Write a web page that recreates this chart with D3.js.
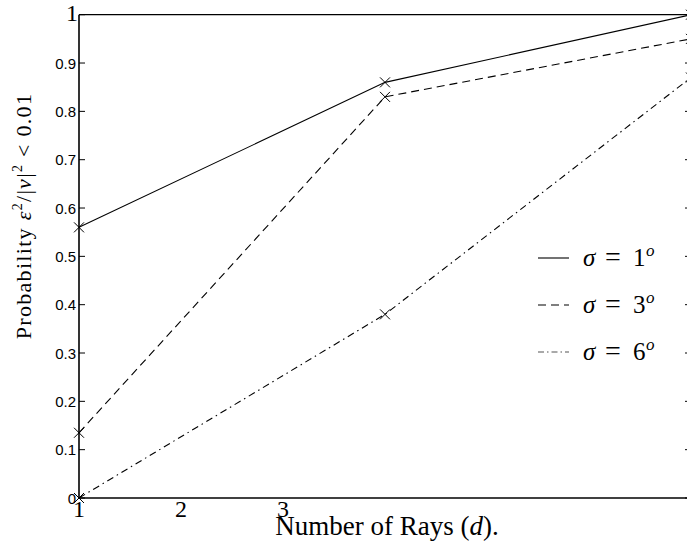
<!DOCTYPE html>
<html>
<head>
<meta charset="utf-8">
<script src="https://cdn.jsdelivr.net/npm/d3@7"></script>
<style>
  html, body { margin: 0; padding: 0; background: #fff; }
  svg { display: block; }
</style>
</head>
<body>
<div id="chart"></div>
<script>
// data
const rays = [1, 4, 7];
const sigma1 = [0.56, 0.86, 1.0];
const sigma3 = [0.135, 0.83, 0.95];
const sigma6 = [0.0, 0.38, 0.87];
const seriesNames = ['1', '3', '6'];
const xTicks = [1, 2, 3];
const yTicks = [0, 0.1, 0.2, 0.3, 0.4, 0.5, 0.6, 0.7, 0.8, 0.9, 1];

const width = 687;
const height = 547;
const box = { left: 79, right: 691, top: 14.7, bottom: 498 };

const svg = d3.select('#chart').append('svg')
  .attr('width', width).attr('height', height);

const x = d3.scaleLinear().domain([1, 7]).range([box.left, box.right]);
const y = d3.scaleLinear().domain([0, 1]).range([box.bottom, box.top]);

const serifText = "'Liberation Serif', 'DejaVu Serif', serif";
const sans = "'Liberation Sans', Arial, sans-serif";

// frame
const frame = svg.append('g');
frame.append('line').attr('x1', box.left).attr('x2', box.right).attr('y1', box.top).attr('y2', box.top)
  .attr('stroke', '#000').attr('stroke-width', 1.2);
frame.append('line').attr('x1', box.right).attr('x2', box.right).attr('y1', box.top).attr('y2', box.bottom)
  .attr('stroke', '#000').attr('stroke-width', 1.2);
frame.append('line').attr('x1', box.left).attr('x2', box.right).attr('y1', box.bottom).attr('y2', box.bottom)
  .attr('stroke', '#000').attr('stroke-width', 1.6);
frame.append('line').attr('x1', box.left).attr('x2', box.left).attr('y1', box.top).attr('y2', box.bottom)
  .attr('stroke', '#000').attr('stroke-width', 1.6);

// y ticks (inward, both sides)
const yt = svg.append('g').selectAll('g').data(yTicks).enter().append('g');
yt.append('line')
  .attr('x1', box.left).attr('x2', box.left + 6)
  .attr('y1', d => y(d)).attr('y2', d => y(d))
  .attr('stroke', '#000').attr('stroke-width', 1);
yt.append('line')
  .attr('x1', box.right).attr('x2', box.right - 6)
  .attr('y1', d => y(d)).attr('y2', d => y(d))
  .attr('stroke', '#000').attr('stroke-width', 1);
yt.append('text')
  .attr('x', d => d === 1 ? box.left - 1 : box.left - 3)
  .attr('y', d => d === 1 ? y(d) + 6 : y(d) + 5.5)
  .attr('text-anchor', 'end')
  .attr('font-family', d => d === 1 ? serifText : sans)
  .attr('font-size', d => d === 1 ? 24 : 15)
  .text(d => d === 0 || d === 1 ? d3.format('d')(d) : d3.format('.1f')(d));

// x tick labels
svg.append('g').selectAll('text').data(xTicks).enter().append('text')
  .attr('x', d => x(d))
  .attr('y', 517)
  .attr('text-anchor', 'middle')
  .attr('font-family', serifText)
  .attr('font-size', 24)
  .text(d => d);

// axis titles
svg.append('text')
  .attr('x', 387).attr('y', 535)
  .attr('text-anchor', 'middle')
  .attr('font-family', serifText)
  .attr('font-size', 27)
  .html('Number of Rays (<tspan font-style="italic">d</tspan>).');

svg.append('text')
  .attr('transform', 'translate(31,216) rotate(-90)')
  .attr('text-anchor', 'middle')
  .attr('font-family', serifText)
  .attr('font-size', 22)
  .attr('letter-spacing', 1.3)
  .html('Probability <tspan font-style="italic">ε</tspan><tspan font-size="14" dy="-9">2</tspan><tspan dy="9">/|</tspan><tspan font-style="italic">v</tspan>|<tspan font-size="14" dy="-9">2</tspan><tspan dy="9"> &lt; 0.01</tspan>');

// series
const series = [
  { name: seriesNames[0], values: sigma1, dash: null },
  { name: seriesNames[1], values: sigma3, dash: '8,5' },
  { name: seriesNames[2], values: sigma6, dash: '7,4,1.5,4' }
];

const line = d3.line()
  .x((d, i) => x(rays[i]))
  .y(d => y(d));

const plot = svg.append('g');
plot.selectAll('path').data(series).enter().append('path')
  .attr('d', d => line(d.values))
  .attr('fill', 'none')
  .attr('stroke', '#000')
  .attr('stroke-width', 1.1)
  .attr('stroke-dasharray', d => d.dash);

// x markers
const ms = 5;
series.forEach(s => {
  plot.append('g').selectAll('path').data(s.values).enter().append('path')
    .attr('d', (d, i) => {
      const cx = x(rays[i]), cy = y(d);
      return `M${cx - ms},${cy - ms}L${cx + ms},${cy + ms}M${cx - ms},${cy + ms}L${cx + ms},${cy - ms}`;
    })
    .attr('stroke', '#000').attr('stroke-width', 1).attr('fill', 'none');
});

// legend
const legend = svg.append('g');
const rowY = [258, 305, 352];
series.forEach((s, i) => {
  legend.append('line')
    .attr('x1', 538).attr('x2', 569)
    .attr('y1', rowY[i]).attr('y2', rowY[i])
    .attr('stroke', i === 2 ? '#555' : '#000')
    .attr('stroke-width', 1.1)
    .attr('stroke-dasharray', i === 1 ? '8,5' : (i === 2 ? '6,3,1.5,3' : null));
  const t = legend.append('text')
    .attr('y', rowY[i] + 8)
    .attr('font-family', serifText)
    .attr('font-size', 25);
  t.append('tspan').attr('x', 583).attr('font-style', 'italic').text('σ');
  t.append('tspan').attr('x', 605).attr('font-size', 28).text('=');
  t.append('tspan').attr('x', 633).text(s.name);
  t.append('tspan').attr('x', 646).attr('dy', -10).attr('font-size', 17)
    .attr('font-style', 'italic').text('o');
});
</script>
</body>
</html>
